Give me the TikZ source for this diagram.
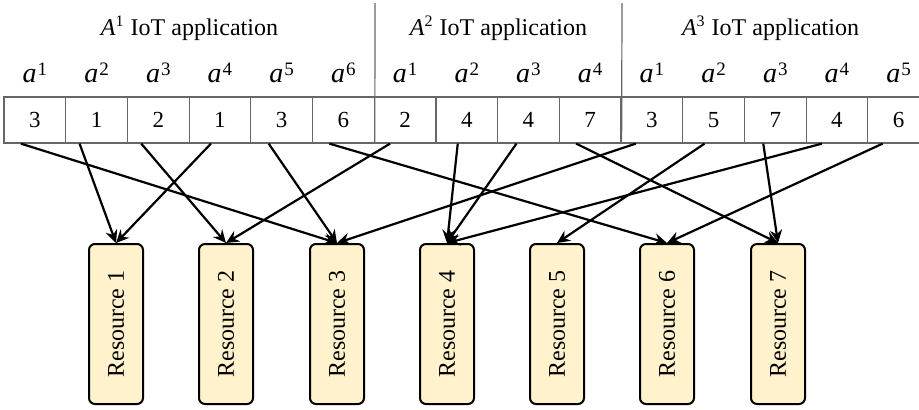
\documentclass[tikz,border=0pt]{standalone}
\usepackage{fontspec}
\setmainfont{Liberation Serif}
\usetikzlibrary{arrows.meta}
\definecolor{resfill}{HTML}{FFF2CC}
\definecolor{gridgray}{HTML}{666666}
\tikzset{
  cell/.style={draw=gridgray, line width=0.6pt, minimum width=30.85pt, minimum height=23pt, inner sep=0pt, font=\fontsize{11.5}{14}\selectfont},
  hdr/.style={inner sep=0pt, font=\fontsize{12}{14}\selectfont},
  sub/.style={inner sep=0pt, font=\fontsize{14}{16}\selectfont},
  res/.style={draw=black, line width=1pt, fill=resfill, rounded corners=3pt, minimum width=27pt, minimum height=80pt, inner sep=0pt, font=\fontsize{12}{14}\selectfont},
  sep/.style={draw=gridgray, line width=0.6pt},
  link/.style={draw=black, line width=1.1pt, -{Stealth[length=6.5pt,width=6pt,inset=2.2pt]}}
}
\newcommand{\av}[1]{\textit{a}\kern0.5pt\raisebox{3.2pt}{\fontsize{9.5}{10}\selectfont #1}}
\begin{document}
\begin{tikzpicture}[x=0.5pt,y=-0.5pt]
\useasboundingbox (0,0) rectangle (919,409);
\clip (0,0) rectangle (919,409);
% titles
\node[hdr] (t1) at (189.5,28) {\textit{A}\textsuperscript{1} IoT application};
\node[hdr] (t2) at (498.5,28) {\textit{A}\textsuperscript{2} IoT application};
\node[hdr] (t3) at (770.5,28) {\textit{A}\textsuperscript{3} IoT application};
% cells
\foreach \i/\v in {1/3,2/1,3/2,4/1,5/3,6/6,7/2,8/4,9/4,10/7,11/3,12/5,13/7,14/4,15/6}{
  \node[cell] (c\i) at ({4+61.7*(\i-0.5)},120) {\v};
}
% sub labels
\foreach \i/\k in {1/1,2/2,3/3,4/4,5/5,6/6,7/1,8/2,9/3,10/4,11/1,12/2,13/3,14/4,15/5}{
  \node[sub] (s\i) at ({4+61.7*(\i-0.5)},73) {\av{\k}};
}
% separators
\coordinate (p1) at (375,3);
\coordinate (p2) at (622,3);
\draw[sep] (p1) -- (c6.south east);
\draw[sep] (p2) -- (c10.south east);
% resources
\foreach \j/\x in {1/116,2/226,3/337,4/447,5/557,6/667,7/778}{
  \node[res] (r\j) at (\x,324) {\rotatebox{90}{Resource \j}};
}
% links
\foreach \i/\o/\t in {1/-14/3,2/-17/1,3/-17/2,4/-9/1,5/-13/3,6/-14/6,7/-15/2,8/-9/4,9/-12/4,10/-14/7,11/-16/3,12/-9/5,13/-12/7,14/-15/4,15/-16/6}{
  \draw[link] ([xshift=\o*0.5pt]c\i.south) -- (r\t.north);
}
\end{tikzpicture}
\end{document}
